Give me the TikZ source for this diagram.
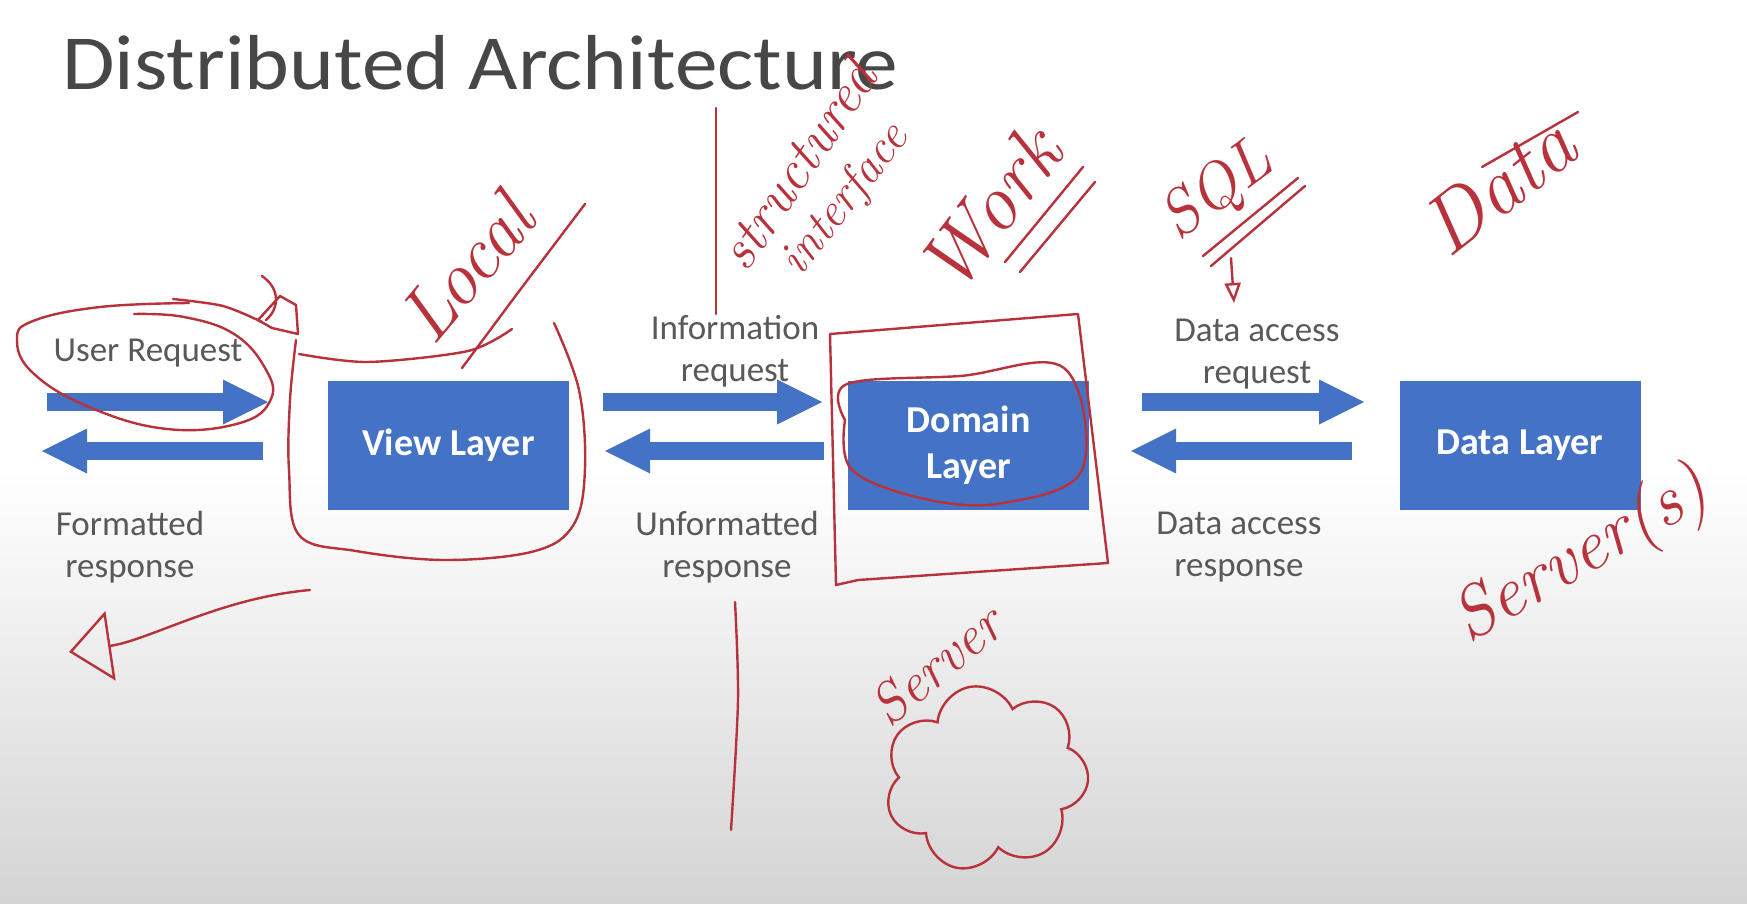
\documentclass[tikz,border=0pt]{standalone}
\usepackage{fontspec}
\setmainfont{Carlito}
\newfontfamily\hand{Latin Modern Roman}
\usetikzlibrary{arrows.meta,shapes.symbols}
\definecolor{ppblue}{HTML}{4472C4}
\definecolor{inkred}{HTML}{B8323C}
\definecolor{labelgray}{HTML}{595959}
\definecolor{titlegray}{HTML}{474747}
\begin{document}
\begin{tikzpicture}[x=1pt,y=-1pt,
  layerbox/.style={fill=ppblue, draw=none, minimum width=241pt, minimum height=129pt,
    text=white, font=\fontsize{38}{46}\selectfont\bfseries, align=center, inner sep=0pt},
  blockarrow/.style={draw=ppblue, line width=18pt,
    -{Triangle[length=45pt,width=45pt,line width=0pt]}},
  lbl/.style={text=labelgray, font=\fontsize{35}{42}\selectfont, align=center, inner sep=0pt},
  ink/.style={draw=inkred, line width=2.4pt, line cap=round, line join=round},
  handtext/.style={text=inkred, font=\hand\itshape\fontsize{60}{60}\selectfont, inner sep=0pt}
]
\useasboundingbox (0,0) rectangle (1747,904);
\fill[white] (0,0) rectangle (1747,904);
\shade[top color=white, bottom color=black!17] (0,470) rectangle (1747,904);

% title
\node[anchor=base west, inner sep=0pt, text=titlegray, xscale=1.095, font=\fontsize{78}{90}\selectfont] (title) at (62,90) {Distributed Architecture};

% layer boxes
\node[layerbox] (view) at (448.5,445) {View Layer};
\node[layerbox] (domain) at (968.5,445) {Domain\\Layer};
\node[layerbox] (data) at (1520,445) {Data Layer};

% block arrows
\coordinate (a1s) at (47,402);   \coordinate (a1e) at (268,402);
\coordinate (a2s) at (263,451);  \coordinate (a2e) at (42,451);
\coordinate (a3s) at (603,402);  \coordinate (a3e) at (822,402);
\coordinate (a4s) at (824,451);  \coordinate (a4e) at (605,451);
\coordinate (a5s) at (1142,402); \coordinate (a5e) at (1364,402);
\coordinate (a6s) at (1352,451); \coordinate (a6e) at (1131,451);
\draw[blockarrow] (a1s) -- (a1e);
\draw[blockarrow] (a2s) -- (a2e);
\draw[blockarrow] (a3s) -- (a3e);
\draw[blockarrow] (a4s) -- (a4e);
\draw[blockarrow] (a5s) -- (a5e);
\draw[blockarrow] (a6s) -- (a6e);

% labels
\node[lbl] (l1) at (148,353) {User Request};
\node[lbl] (l2) at (130,547) {Formatted\\response};
\node[lbl] (l3) at (735,351) {Information\\request};
\node[lbl] (l4) at (727,547) {Unformatted\\response};
\node[lbl] (l5) at (1257,354) {Data access\\request};
\node[lbl] (l6) at (1239,547) {Data access\\response};

% ---- handwritten annotations ----
% loop around User Request
\draw[ink] plot[smooth, tension=0.7] coordinates {(189,303) (100,307) (33,321) (17,340) (33,373) (89,407) (167,429) (240,423) (271,399) (265,368) (234,334) (184,317) (134,314)};
% stroke into small head
\draw[ink] plot[smooth] coordinates {(173,299) (223,306) (262,322)};
\draw[ink] (258,320) -- (280,296) -- (296,305) -- (298,334) -- (272,328) -- cycle;
\draw[ink] (262,276) .. controls (282,290) and (278,310) .. (266,320);
% enclosure round View Layer
\draw[ink] plot[smooth, tension=0.6] coordinates {(296,340) (290,400) (289,470) (299,535) (356,551) (446,560) (535,551) (574,524) (585,468) (579,390) (554,323)};
\draw[ink] plot[smooth] coordinates {(299,354) (368,362) (468,351) (512,329)};
% Local
\node[handtext, font=\hand\itshape\fontsize{76}{76}\selectfont, rotate=50] (local) at (466,268) {Local};
\draw[ink] plot[smooth] coordinates {(462,368) (520,290) (585,204)};

% vertical separator lines
\draw[ink] (716,108) -- (716,314);
\draw[ink] plot[smooth] coordinates {(735,602) (738,700) (731,830)};

% structured interface
\node[handtext, font=\hand\itshape\fontsize{56}{56}\selectfont, rotate=56] (struct) at (797,165) {structured};
\node[handtext, font=\hand\itshape\fontsize{48}{48}\selectfont, rotate=52] (iface) at (846,200) {interface};

% Work
\node[handtext, font=\hand\itshape\fontsize{80}{80}\selectfont, rotate=53] (work) at (990,210) {Work};
\draw[ink] (1005,262) -- (1083,167);
\draw[ink] (1020,272) -- (1095,182);

% enclosure round Domain Layer
\draw[ink] (830,334) -- (1078,314) -- (1108,563) -- (858,580) -- (836,585) -- cycle;
\draw[ink] plot[smooth, tension=0.6] coordinates {(845,420) (847,384) (960,376) (1064,368) (1082,470) (1003,503) (925,499) (852,470) (845,420)};

% SQL
\node[handtext, font=\hand\itshape\fontsize{64}{64}\selectfont, rotate=37] (sql) at (1218,192) {SQL};
\draw[ink] (1203,256) -- (1298,178);
\draw[ink] (1211,266) -- (1305,186);
\coordinate (sqlA) at (1231,258);
\coordinate (sqlB) at (1234,303);
\draw[ink, -{Triangle[open, length=20pt, width=16pt, line width=2.4pt]}] (sqlA) -- (sqlB);

% Data
\node[handtext, font=\hand\itshape\fontsize{82}{82}\selectfont, rotate=38] (dataw) at (1498,186) {Data};
\draw[ink] (1482,167) -- (1578,112);

% Server(s)
\node[handtext, font=\hand\itshape\fontsize{72}{72}\selectfont, rotate=30] (servers) at (1582,557) {Server(s)};

% Server with cloud
\node[handtext, font=\hand\itshape\fontsize{56}{56}\selectfont, rotate=40] (server) at (936,665) {Server};
\node[cloud, cloud puffs=7, aspect=1.05, draw=inkred, line width=2.4pt, minimum width=205pt, minimum height=185pt, rotate=10] (cloud) at (986,778) {};

% arrow from Formatted response
\coordinate (fA) at (310,590);
\coordinate (fB) at (69,652);
\draw[ink, -{Triangle[open, length=42pt, width=70pt, line width=2.4pt]}] (fA) .. controls (220,598) and (150,640) .. (fB);
\end{tikzpicture}
\end{document}
